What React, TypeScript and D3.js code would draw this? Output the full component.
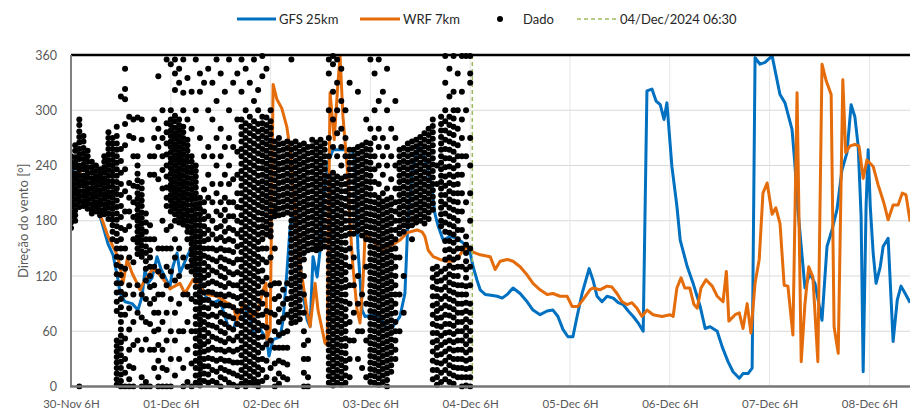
import { useEffect, useRef } from 'react';
import * as d3 from 'd3';

// hours since 30-Nov 06:00
const xTickHours = [0, 24, 48, 72, 96, 120, 144, 168, 192];
const xTickLabels = ['30-Nov 6H', '01-Dec 6H', '02-Dec 6H', '03-Dec 6H', '04-Dec 6H', '05-Dec 6H', '06-Dec 6H', '07-Dec 6H', '08-Dec 6H'];
const yTicks = [0, 60, 120, 180, 240, 300, 360];
const cutHour = 96.5; // 04/Dec/2024 06:30

const gfs: [number, number][] = [
  [0,238],[2.2,225],[4.6,210],[6.3,195],[7.5,177],[8.9,155],[10.1,143],[11.3,116],[11.8,101],[13.0,92],[14.7,90],[16.1,83],[17.1,98],[17.8,127],[18.5,112],[19.5,118],[20.7,141],[21.6,128],[22.6,119],[23.8,108],[24.5,130],[25.5,145],[26.2,123],[27.9,141],[29.1,152],[30.5,123],[31.7,105],[32.9,94],[34.2,91],[35.8,94],[37.8,65],[39.0,61],[40.2,80],[41.4,72],[42.6,87],[43.8,58],[45.5,62],[47.1,51],[47.6,33],[48.6,51],[50.3,54],[51.0,72],[51.9,123],[52.7,174],[53.4,188],[54.6,163],[55.8,101],[56.8,72],[57.5,65],[58.2,141],[59.2,119],[59.9,148],[60.6,200],[61.8,243],[63.0,257],[66.4,257],[67.6,257],[68.3,243],[69.0,150],[70.0,83],[70.7,76],[72.9,78],[74.3,76],[76.0,62],[77.4,65],[79.1,76],[80.3,101],[81.0,177],[82.0,232],[82.7,246],[83.5,261],[84.4,257],[85.6,239],[86.8,217],[87.5,188],[88.3,174],[89.5,159],[91.2,163],[92.8,161],[94.0,157],[95.2,152],[96.0,145],[96.7,130],[97.6,116],[98.4,105],[99.6,100],[101.0,99],[102.5,98],[103.7,96],[104.9,100],[106.3,107],[108.0,101],[109.7,92],[111.1,83],[112.8,78],[114.5,82],[115.9,83],[117.1,76],[118.3,62],[119.5,54],[120.7,54],[121.7,76],[122.9,101],[124.6,128],[125.5,116],[126.5,98],[127.7,92],[128.9,98],[130.4,96],[131.6,91],[132.8,89],[134.0,82],[135.2,76],[136.4,69],[137.6,60],[138.5,321],[139.7,323],[140.7,310],[141.7,306],[142.6,290],[143.3,308],[144.5,239],[145.7,196],[146.5,159],[148.2,130],[149.6,112],[151.3,87],[152.5,63],[153.7,65],[155.4,60],[156.6,43],[158.0,27],[159.2,16],[160.7,9],[161.6,14],[162.8,14],[163.8,20],[164.5,357],[165.7,350],[166.9,352],[168.6,359],[170.5,317],[171.7,308],[173.4,279],[174.1,240],[174.8,192],[176.5,107],[177.7,123],[178.9,112],[180.6,72],[181.8,152],[183.0,170],[184.2,192],[185.4,235],[186.6,254],[187.6,306],[188.5,293],[189.3,261],[190.0,185],[190.5,16],[191.2,196],[191.7,257],[192.2,196],[192.9,145],[193.6,112],[194.6,130],[195.3,152],[196.5,161],[197.7,49],[198.7,94],[199.6,109],[200.6,101],[201.8,91]
];

const wrf: [number, number][] = [
  [0,245],[2.2,232],[4.6,210],[6.3,192],[7.5,181],[8.9,163],[10.1,152],[11.1,143],[11.8,130],[12.5,112],[13.5,138],[14.7,123],[15.9,112],[16.6,105],[17.3,112],[18.5,120],[19.7,128],[21.4,121],[22.6,114],[23.8,106],[24.5,108],[26.2,112],[27.4,101],[29.3,116],[31.0,108],[32.7,100],[35.1,98],[37.5,91],[39.0,87],[39.9,72],[41.4,91],[42.6,83],[43.8,76],[45.0,83],[46.2,105],[46.9,112],[47.1,51],[47.9,62],[48.6,328],[49.5,312],[50.7,302],[51.9,282],[52.7,257],[53.4,214],[54.4,170],[55.1,130],[55.8,112],[56.8,80],[57.5,65],[58.7,112],[59.4,83],[61.1,47],[61.6,45],[62.3,319],[63.3,268],[64.2,330],[64.7,359],[65.4,293],[66.4,239],[67.1,177],[67.8,130],[68.8,83],[69.5,69],[70.2,112],[70.7,163],[71.4,163],[72.6,159],[74.3,148],[76.0,152],[77.4,154],[79.1,159],[80.8,167],[83.2,170],[84.4,168],[85.1,163],[85.9,148],[87.1,141],[88.7,138],[90.4,136],[91.9,136],[93.1,140],[94.3,148],[95.5,152],[96.7,146],[98.4,143],[100.8,141],[102.0,127],[103.2,136],[104.9,138],[106.3,136],[108.0,130],[109.7,121],[111.1,112],[112.8,105],[114.5,100],[115.9,101],[117.6,98],[119.3,98],[120.5,87],[121.9,87],[123.1,94],[124.8,105],[125.5,107],[127.2,105],[128.9,109],[130.1,108],[131.3,101],[132.5,92],[133.7,89],[134.9,91],[136.1,85],[137.3,76],[138.5,83],[140.0,78],[142.1,76],[144.1,78],[144.8,76],[145.7,107],[146.7,118],[147.6,107],[148.8,107],[149.8,89],[150.6,85],[151.5,107],[152.7,116],[154.2,109],[155.4,98],[156.8,92],[157.6,125],[158.2,71],[159.7,78],[160.7,80],[161.6,63],[162.6,90],[163.5,58],[164.5,112],[165.5,138],[166.4,210],[167.4,221],[168.6,187],[169.5,194],[170.5,177],[171.5,110],[172.4,109],[173.6,56],[174.6,319],[175.6,27],[176.5,90],[177.4,130],[178.4,119],[179.6,27],[180.6,350],[181.6,332],[182.8,317],[183.5,65],[184.5,36],[185.6,333],[186.3,254],[187.3,261],[188.5,263],[189.5,261],[190.5,226],[191.4,246],[192.9,239],[194.1,219],[195.5,199],[196.5,181],[197.7,197],[198.9,197],[199.9,210],[200.8,208],[201.8,179]
];

// observed direction, grouped by hour
const obs: [number, number[]][] = [
  [0, [250,244,239,233,228,222,217,211,206,200,195,189,184,178,172]],
  [1, [262,256,249,243,238,231,226,220,214,209,203,197,191,186,180]],
  [2, [290,284,277,271,265,258,252,247,240,235,229,223,218,212,206,201,195,0]],
  [3, [272,266,259,253,247,241,236,229,224,218,212,207,201,196]],
  [4, [256,250,244,238,232,227,221,215,210,204,199,193]],
  [5, [244,238,232,226,221,215,209,204,198,192,188]],
  [6, [240,234,228,223,217,212,206,200,195,190]],
  [7, [236,230,225,219,213,208,202,197,191,186]],
  [8, [250,244,238,232,226,221,215,209,204,198,192,187]],
  [9, [276,270,264,258,252,246,241,235,229,223,217,211,206,200,194,188,182]],
  [10, [270,264,258,252,246,240,234,229,223,217,211,205,199,193,187,181,175,168,160]],
  [11, [282,272,264,257,250,243,236,229,222,215,209,202,195,188,181,174,166,158,150,141,132,122,112,102,92,82,50,44,38,32,26,20,14,8,2]],
  [12, [315,258,245,232,220,208,196,184,172,160,150,140,130,121,112,103,95,86,78,70,62,55,48,41,34,27,20,13,6,0]],
  [13, [345,323,312,285,262,236,212,190,170,150,128,100,78,52,30,15,0]],
  [14, [293,272,221,205,190,174,140,110,85,62,40,22,8,0]],
  [15, [290,270,250,218,200,184,160,135,100,70,45,20,0]],
  [16, [292,250,240,231,224,217,210,204,198,192,186,180,174,168,162,156,150,144,110,80,50]],
  [17, [290,268,222,215,208,202,196,189,183,177,171,165,159,153,147,141,100,75,40,10,0]],
  [18, [188,178,168,160,152,145,136,128,115,95,70,51,5,0]],
  [19, [250,230,175,160,148,140,130,120,108,90,68,40,0]],
  [20, [290,270,250,230,160,130,110,95,80,60,40,20]],
  [21, [337,280,260,225,150,125,100,80,62,45,28,10,0]],
  [22, [300,270,250,235,215,180,150,120,100,70,40,20,0]],
  [23, [355,286,276,264,252,240,228,216,205,196,170,150,130,110,80,50,18,0]],
  [24, [350,300,290,284,278,272,266,260,254,248,243,237,231,225,219,214,208,202,196,190,174,150,125,95,60,30,0]],
  [25, [355,340,322,294,288,281,275,269,263,257,251,246,240,234,228,222,216,211,205,199,193,187,180,160,140,115,80,50,12]],
  [26, [345,330,290,284,278,272,266,260,254,249,243,237,231,226,220,214,208,202,196,190,184,178,150,120,90,60,30]],
  [27, [355,319,300,282,276,270,264,258,252,246,241,235,229,223,217,211,205,199,193,187,181,176,140,100,60,20,0]],
  [28, [335,290,268,262,256,250,244,238,233,227,221,215,209,203,197,191,186,180,174,168,160,130,100,70,40,5]],
  [29, [320,280,250,244,238,232,226,220,214,208,203,197,191,185,179,173,167,161,155,149,143,137,131,125,95,60,25,0]],
  [30, [355,300,240,234,228,222,216,210,204,198,193,187,181,175,169,163,157,151,145,139,133,127,121,115,108,100,92,84,76,68,60,52,44,36,28,20,12,4]],
  [31, [340,320,270,205,199,193,187,181,175,169,163,157,151,145,139,133,127,121,115,109,103,97,91,85,79,73,67,61,55,49,43,37,31,25,19,13,7,1]],
  [32, [330,250,214,200,190,182,174,166,158,150,142,134,126,118,110,102,94,86,78,70,62,54,46,38,30,22,14,6]],
  [33, [345,300,260,230,205,185,170,160,150,140,130,121,112,103,94,85,76,67,58,49,40,31,22,13,4]],
  [34, [330,290,250,220,200,180,165,150,138,126,114,102,90,78,66,54,42,30,18,6]],
  [35, [355,310,270,240,210,190,172,160,148,136,124,112,100,88,76,64,52,40,28,16,4]],
  [36, [340,280,250,220,200,186,174,162,150,140,130,120,110,100,90,80,70,60,50,40,30,20,10,0]],
  [37, [320,260,230,205,192,180,168,158,148,138,128,118,108,98,88,78,68,58,48,38,28,18,8]],
  [38, [355,300,270,240,220,200,185,172,160,148,136,124,112,100,88,76,64,52,40,28,16,4]],
  [39, [330,260,225,200,185,170,158,146,134,122,110,98,86,74,62,50,38,26,14,2]],
  [40, [340,290,255,230,210,195,180,166,152,138,124,110,96,82,68,54,40,26,12,0]],
  [41, [355,320,290,282,274,266,258,250,242,234,226,218,210,202,194,186,178,170,162,154,146,138,130,122,114,106,98,90,82,74,66,58,50,42,34,26,18,10,3]],
  [42, [345,300,286,278,270,262,254,246,238,230,222,214,206,198,190,182,174,166,158,150,142,134,126,118,110,102,94,86,78,70,62,54,46,38,30,22,14,6,0]],
  [43, [330,293,283,275,267,259,251,243,235,227,219,211,203,195,187,179,171,163,155,147,139,131,123,115,107,99,91,83,75,67,59,51,43,35,27,19,11,4]],
  [44, [355,310,288,280,272,264,256,248,240,232,224,216,208,200,192,184,176,168,160,152,144,136,128,120,112,104,96,88,80,72,64,56,48,40,32,24,16,8,2]],
  [45, [322,300,285,277,269,261,253,245,237,229,221,213,205,197,189,181,173,165,157,149,141,133,125,117,109,101,93,85,77,69,61,53,45,37,29,21,13,5,0]],
  [46, [359,337,293,286,279,272,265,258,251,244,237,230,223,216,209,202,195,188,181,174,167,160,150,138,126,114,102,90,78,66,54,42,30,18,6]],
  [47, [345,292,284,277,270,263,256,249,242,235,228,221,214,207,200,193,186,179,172,165,150,135,118,100,82,64,46,28,10]],
  [48, [300,288,281,274,267,260,253,246,239,232,225,218,211,204,197,190,183,176,169,163,140,110,80,50,20]],
  [49, [266,259,252,245,238,231,224,217,210,203,196,190,185,150,112,95,78,60,42,25,8,0]],
  [50, [270,263,256,249,242,235,228,221,214,207,200,193,186,112,98,84,70,56,42,28,14,3]],
  [51, [264,257,250,243,236,229,222,215,208,201,194,187,105,90,74,58,42,26,10]],
  [52, [266,259,252,245,238,231,224,217,210,203,196,189,112,95,78,60,42,24,8]],
  [53, [355,264,257,250,243,236,229,222,215,208,201,194,187,180,173,166,159,152,145,138,131,124,117,110,103,96,89,82,75,69]],
  [54, [266,259,252,245,238,231,224,217,210,203,196,189,182,175,168,161,154,147,140,133,126,119,112,105,98,91,84,77,70]],
  [55, [262,255,248,241,234,227,220,213,206,199,192,185,178,171,164,157,150,143,136,129,122,115,108,101,94,87,80,73]],
  [56, [264,257,250,243,236,229,222,215,208,201,194,187,180,173,166,159,152,145,138,120,100,80,60,45,30,15,0]],
  [57, [260,253,246,239,232,225,218,211,204,197,190,183,176,169,162,155,148,50,30,10,0]],
  [58, [268,261,254,247,240,233,226,219,212,205,198,191,184,177,170,163,156,149]],
  [59, [265,258,251,244,237,230,223,216,209,202,195,188,181,174,167,160,153,148]],
  [60, [268,261,254,247,240,233,226,219,212,205,198,191,184,177,170,163,156,150]],
  [61, [264,257,250,243,236,229,222,215,208,201,194,187,180,173,166,159,152]],
  [62, [355,340,300,270,250,228,221,214,207,200,193,186,179,172,165,158,151,144,137,130,123,116,109,102,95,88,81,74,67,60,53,46,39,32,25,18,11,4]],
  [63, [359,350,320,290,260,232,225,218,211,204,197,190,183,176,169,162,155,148,141,134,127,120,113,106,99,92,85,78,71,64,57,50,43,36,29,22,15,8,1]],
  [64, [355,330,300,275,250,228,221,214,207,200,193,186,179,172,165,158,151,144,137,130,123,116,109,102,95,88,81,74,67,60,53,46,39,32,25,18,11,4]],
  [65, [345,310,280,260,240,226,219,212,205,198,191,184,177,170,163,156,149,142,135,128,121,114,107,100,93,86,79,72,65,58,51,44,37,30,23,16,9,2]],
  [66, [300,270,250,228,220,212,204,196,188,180,172,164,156,148,140,132,124,116,108,100,92,84,76,68,60,52,44,36,28,20,12,4]],
  [67, [330,257,250,243,236,229,222,215,208,201,194,187,180,173,166,150,130,110,90,70,50,30,10]],
  [68, [257,250,243,236,229,222,215,208,201,194,187,180,173,166,140,110,80,50]],
  [69, [320,260,253,246,239,232,225,218,211,204,197,190,183,176,169,120,90,60,30]],
  [70, [262,255,248,241,234,227,220,213,206,199,192,185,178,171,164,100,60,20]],
  [71, [290,265,258,251,244,237,230,223,216,209,202,195,188,181,174,167,160,130,90,50,10]],
  [72, [355,280,264,257,250,243,236,229,222,215,208,201,194,187,180,173,166,159,152,145,138,131,124,117,110,103,96,89,82,75,68,61,54,47,40,33,26,19,12,5]],
  [73, [340,300,270,250,236,222,208,200,193,186,179,172,165,158,151,144,137,130,123,116,109,102,95,88,81,74,67,60,53,46,39,32,25,18,11,4]],
  [74, [355,310,280,260,240,220,205,198,191,184,177,170,163,156,149,142,135,128,121,114,107,100,93,86,79,72,65,58,51,44,37,30,23,16,9,2]],
  [75, [320,270,250,230,210,201,194,187,180,173,166,159,152,145,138,131,124,117,110,103,96,89,82,75,68,61,54,47,40,33,26,19,12,5]],
  [76, [345,300,260,240,215,203,196,189,182,175,168,161,154,147,140,133,126,119,112,105,98,91,84,77,70,63,56,49,42,35,28,21,14,7,0]],
  [77, [280,250,225,205,198,191,184,177,170,163,156,149,142,135,128,121,114,107,100,93,86,79,72,65,58,51,44,37,30,23,16]],
  [78, [310,270,240,215,200,190,180,170,160,150,140,130,120,110,100,90,80,70,60,50,40,30]],
  [79, [257,250,243,236,229,222,215,208,201,194,187,180,173,166,140,100,60]],
  [80, [259,252,245,238,231,224,217,210,203,196,189,182,175,168,120,80]],
  [81, [264,257,250,243,236,229,222,215,208,201,194,187,180,174]],
  [82, [266,259,252,245,238,231,224,217,210,203,196,189,182,175,160]],
  [83, [268,261,254,247,240,233,226,219,212,205,198,191,184,178]],
  [84, [271,264,257,250,243,236,229,222,215,208,201,194,187,180]],
  [85, [275,268,261,254,247,240,233,226,219,212,205,198,191,184,177]],
  [86, [280,273,266,259,252,245,238,231,224,217,210,203,196,189,182]],
  [87, [290,283,276,269,262,255,248,241,234,227,220,213,206,199,192,128,118,108,98,88,78,68,58,48,38,28,18,8]],
  [88, [240,220,130,122,114,106,98,90,82,74,66,58,50,42,34,26,18,10,2]],
  [89, [293,285,278,271,264,257,250,243,236,229,222,215,208,201,194,187,180,174,125,115,105,95,85,75,65,55,45,35,25,15,5]],
  [90, [359,330,300,288,278,268,258,248,238,228,218,208,198,188,178,168,158,148,138,128,118,108,98,88,78,68,58,48,38,28,18,8]],
  [91, [345,315,293,284,275,266,257,248,239,230,221,212,203,194,185,176,167,158,149,140,131,122,113,104,95,86,77,68,59,50,41,32,23,14,5]],
  [92, [359,320,300,291,282,273,264,255,246,237,228,219,210,201,192,183,174,165,156,147,138,129,120,111,102,93,84,75,66,57,48,39,30,21,12,3]],
  [93, [340,300,280,262,250,240,230,220,210,200,190,180,170,160,150,140,130,120,110,100,90,80,70,60,50,40,30,20,10]],
  [94, [359,320,290,270,250,230,210,190,170,150,130,110,100,90,80,70,60,50,40,30,20,10,0]],
  [95, [359,300,250,200,163,154,145,136,127,118,109,100,91,82,73,64,55,46,37,28,19,10,1]],
  [96, [359,340,330,270,240,210,180,150,130,110,90,80,70,60,50,40,30,20,10,0]],
];

const FONT = 'Lato, "Open Sans", sans-serif';

export default function App() {
  const svgRef = useRef<SVGSVGElement>(null);

  const width = 910;
  const height = 410;
  const plot = { left: 71, right: 911, top: 55, bottom: 386.5 };

  useEffect(() => {
    const svg = d3.select(svgRef.current);
    svg.selectAll('*').remove();

    const x = d3.scaleLinear().domain([0, 202]).range([plot.left, plot.right]);
    const y = d3.scaleLinear().domain([0, 360]).range([plot.bottom, plot.top]);

    svg.append('defs').append('clipPath').attr('id', 'plotClip')
      .append('rect')
      .attr('x', plot.left).attr('y', plot.top - 3)
      .attr('width', plot.right - plot.left).attr('height', plot.bottom - plot.top + 6);

    // gridlines
    const grid = svg.append('g');
    grid.selectAll('line.h').data(yTicks.filter(t => t > 0 && t < 360)).join('line')
      .attr('x1', plot.left).attr('x2', width)
      .attr('y1', d => y(d)).attr('y2', d => y(d))
      .attr('stroke', '#d9d9d9').attr('stroke-width', 1);
    grid.selectAll('line.v').data(xTickHours.filter(t => t > 0)).join('line')
      .attr('x1', d => x(d)).attr('x2', d => x(d))
      .attr('y1', plot.top).attr('y2', plot.bottom)
      .attr('stroke', '#e6e6e6').attr('stroke-width', 1);

    // axes (labels only, Excel style)
    const yAxis = svg.append('g')
      .attr('transform', `translate(${plot.left - 8},0)`)
      .call(d3.axisLeft(y).tickValues(yTicks).tickSize(0).tickPadding(6));
    yAxis.select('.domain').remove();
    yAxis.selectAll('text').attr('font-family', FONT).attr('font-size', 12.5).attr('fill', '#595959');

    const xAxis = svg.append('g')
      .attr('transform', `translate(0,${plot.bottom + 8})`)
      .call(d3.axisBottom(x).tickValues(xTickHours).tickSize(0).tickPadding(5)
        .tickFormat((d, i) => xTickLabels[i]));
    xAxis.select('.domain').remove();
    xAxis.selectAll('text').attr('font-family', FONT).attr('font-size', 11.5).attr('fill', '#595959');

    svg.append('text')
      .attr('transform', `translate(23,${(plot.top + plot.bottom) / 2}) rotate(-90)`)
      .attr('text-anchor', 'middle')
      .attr('dominant-baseline', 'central')
      .attr('font-family', FONT).attr('font-size', 13).attr('fill', '#595959')
      .text('Direção do vento [°]');

    const body = svg.append('g').attr('clip-path', 'url(#plotClip)');

    const line = d3.line<[number, number]>().x(d => x(d[0])).y(d => y(d[1]));

    body.append('path').datum(gfs).attr('d', line)
      .attr('fill', 'none').attr('stroke', '#0070c0').attr('stroke-width', 3).attr('stroke-linejoin', 'round');
    body.append('path').datum(wrf).attr('d', line)
      .attr('fill', 'none').attr('stroke', '#e46c0a').attr('stroke-width', 3).attr('stroke-linejoin', 'round');

    body.append('line')
      .attr('x1', x(cutHour)).attr('x2', x(cutHour))
      .attr('y1', plot.top).attr('y2', plot.bottom)
      .attr('stroke', '#9bbb59').attr('stroke-width', 1.5).attr('stroke-dasharray', '4,3');

    const pts = obs.flatMap(([h, vals]) => vals.map(v => [h, v] as [number, number]));
    body.selectAll('circle.obs').data(pts).join('circle')
      .attr('cx', d => x(d[0])).attr('cy', d => y(d[1]))
      .attr('r', 3).attr('fill', '#000');

    // frame
    svg.append('line')
      .attr('x1', plot.left).attr('x2', width)
      .attr('y1', plot.top).attr('y2', plot.top)
      .attr('stroke', '#000').attr('stroke-width', 2.5);
    svg.append('line')
      .attr('x1', plot.left).attr('x2', plot.left)
      .attr('y1', plot.top).attr('y2', plot.bottom)
      .attr('stroke', '#808080').attr('stroke-width', 2);
    svg.append('line')
      .attr('x1', plot.left - 1).attr('x2', width)
      .attr('y1', plot.bottom).attr('y2', plot.bottom)
      .attr('stroke', '#767676').attr('stroke-width', 2.5);

    // legend
    const lg = svg.append('g').attr('font-family', FONT).attr('font-size', 13).attr('fill', '#262626');
    const ly = 19;
    lg.append('line').attr('x1', 237).attr('x2', 276).attr('y1', ly).attr('y2', ly)
      .attr('stroke', '#0070c0').attr('stroke-width', 3);
    lg.append('text').attr('x', 279).attr('y', ly).attr('dominant-baseline', 'central').text('GFS 25km');
    lg.append('line').attr('x1', 360).attr('x2', 400).attr('y1', ly).attr('y2', ly)
      .attr('stroke', '#e46c0a').attr('stroke-width', 3);
    lg.append('text').attr('x', 403).attr('y', ly).attr('dominant-baseline', 'central').text('WRF 7km');
    lg.append('circle').attr('cx', 500).attr('cy', ly).attr('r', 3).attr('fill', '#000');
    lg.append('text').attr('x', 523).attr('y', ly).attr('dominant-baseline', 'central').text('Dado');
    lg.append('line').attr('x1', 577).attr('x2', 617).attr('y1', ly).attr('y2', ly)
      .attr('stroke', '#9bbb59').attr('stroke-width', 1.5).attr('stroke-dasharray', '4,3');
    lg.append('text').attr('x', 620).attr('y', ly).attr('dominant-baseline', 'central').text('04/Dec/2024 06:30');
  }, []);

  return (
    <svg ref={svgRef} width={width} height={height}
      style={{ position: 'absolute', left: 0, top: 0, background: '#fff' }} />
  );
}
